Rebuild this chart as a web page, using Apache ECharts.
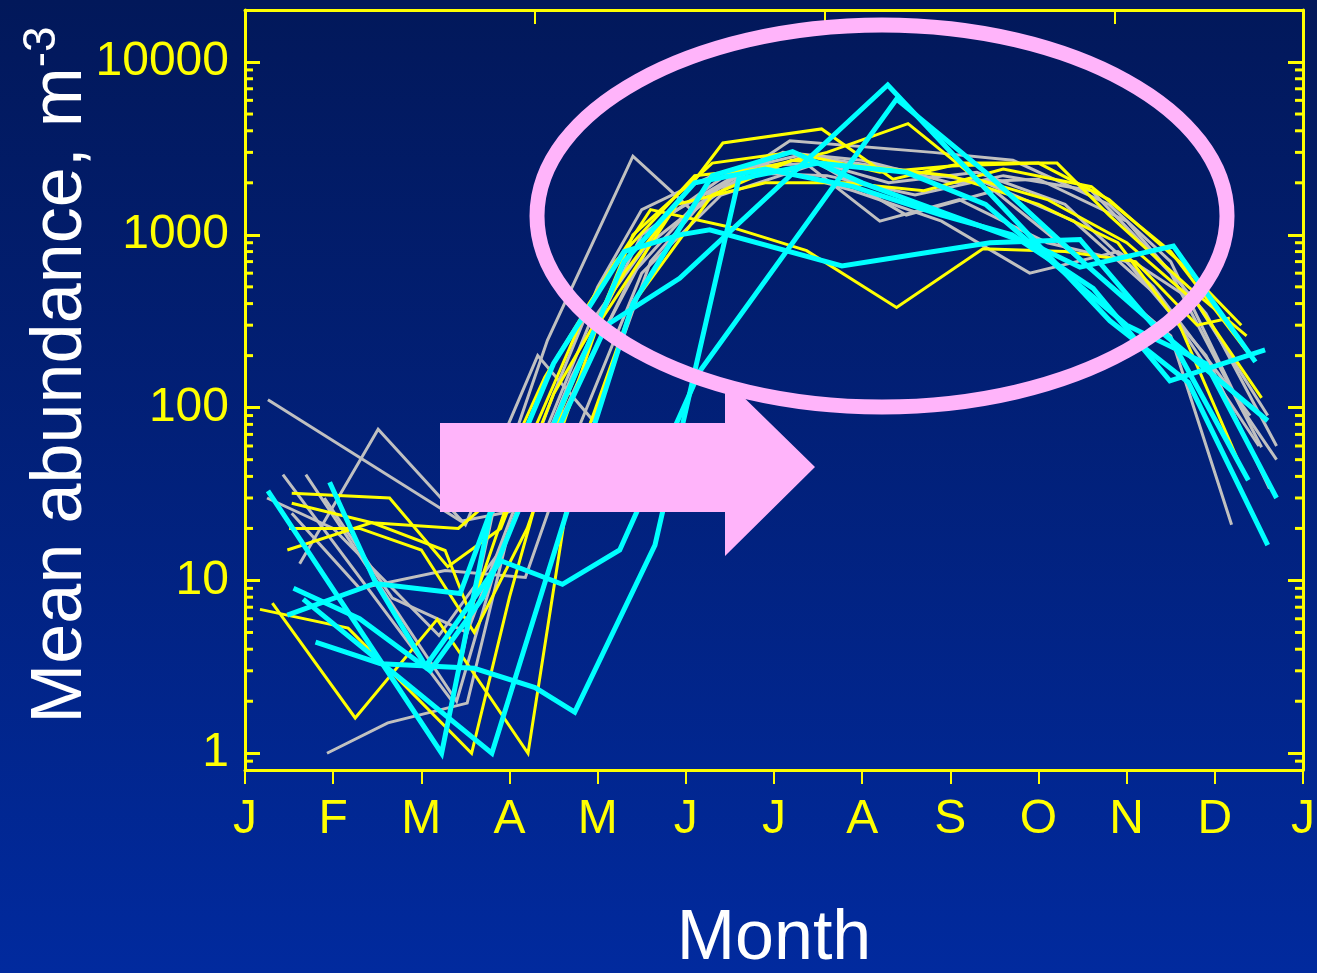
<!DOCTYPE html>
<html>
<head>
<meta charset="utf-8">
<script src="https://cdn.jsdelivr.net/npm/echarts@6/dist/echarts.min.js"></script>
<style>
  html, body { margin: 0; padding: 0; }
  #chart { width: 1317px; height: 973px; }
</style>
</head>
<body>
<div id="chart"></div>
<script>
// Month tick labels (x axis 0..12, ticks at the start of each month)
const monthLabels = ['J','F','M','A','M','J','J','A','S','O','N','D','J'];
// Major y ticks (log axis)
const yTickValues = [1, 10, 100, 1000, 10000];
// Minor log ticks
const minorTickValues = [0.9, 2,3,4,5,6,7,8,9, 20,30,40,50,60,70,80,90,
  200,300,400,500,600,700,800,900, 2000,3000,4000,5000,6000,7000,8000,9000];

// Each line: [month (fractional), mean abundance m^-3]
const grayLines = [
  [[0.26,111],[2.45,22],[3.0,25],[3.5,120],[4.0,500],[4.5,1400],[5.3,2200],[6.3,2900],[7.4,2400],[8.4,2000],[9.4,1200],[10.4,420],[11.5,60]],
  [[0.62,12.5],[1.51,75],[2.5,21],[3.32,200],[3.95,84],[4.6,700],[5.3,1800],[6.3,2800],[7.3,2000],[8.3,2300],[9.3,1500],[10.3,500],[11.4,90]],
  [[0.43,41],[2.35,2.0],[2.9,40],[3.43,245],[4.4,2850],[5.08,1370],[5.8,2500],[6.5,2600],[7.5,1300],[8.5,1800],[9.5,700],[10.5,260],[11.19,21]],
  [[0.69,41],[2.4,2.0],[2.9,15],[3.8,150],[4.6,900],[5.4,1900],[6.18,3500],[7.8,3000],[8.71,2700],[9.8,1500],[10.5,700],[11.3,100],[11.7,50]],
  [[0.53,24.5],[1.3,9],[2.27,11.4],[3.18,10.4],[3.7,60],[4.5,600],[5.4,1700],[6.4,2500],[7.2,1200],[8.1,1600],[9.1,900],[10.0,700],[10.9,200],[11.62,34]],
  [[0.93,1.0],[1.62,1.5],[2.52,1.95],[3.0,20],[3.7,150],[4.5,1000],[5.5,2300],[6.6,2200],[7.6,1700],[8.6,2200],[9.6,1800],[10.5,600],[11.53,59]],
  [[0.9,30],[1.67,7.9],[2.52,5.0],[3.1,30],[3.9,300],[4.8,1300],[5.8,2600],[6.9,1800],[7.9,1200],[8.9,600],[9.9,800],[10.8,400],[11.6,90]],
  [[0.25,30],[1.0,20],[2.2,4.8],[2.9,15],[3.6,90],[4.4,600],[5.2,1700],[6.1,3000],[7.0,2700],[8.0,2000],[9.0,2100],[10.0,1200],[10.9,350],[11.7,60]]
];
const yellowLines = [
  [[0.53,32],[1.64,30],[2.3,12],[2.9,20],[3.5,120],[4.3,600],[5.42,3400],[6.54,4100],[7.35,2100],[8.14,2600],[9.21,2600],[9.8,1300],[10.7,500],[11.36,260]],
  [[0.53,28],[1.44,21.6],[2.42,20],[2.75,28],[3.4,150],[4.2,700],[5.1,2200],[5.8,2400],[6.6,3000],[7.52,4400],[8.3,2100],[9.1,1600],[10.0,900],[10.8,400],[11.53,114]],
  [[0.48,15],[1.44,21.6],[2.27,14.9],[2.55,6.5],[3.2,60],[3.9,400],[4.6,1400],[5.53,1100],[6.37,810],[7.39,380],[8.37,830],[9.3,800],[10.1,700],[10.8,300],[11.17,330]],
  [[0.17,6.8],[1.17,5.3],[2.57,1.0],[3.0,8],[3.6,100],[4.4,1000],[5.3,2600],[6.2,3000],[7.2,2300],[8.0,2500],[9.0,2600],[9.8,1600],[10.6,700],[11.3,300]],
  [[0.31,7.4],[1.25,1.6],[2.18,5.95],[3.21,1.0],[3.7,40],[4.4,400],[5.3,1700],[6.2,2700],[7.0,2500],[8.0,2200],[9.0,1500],[9.9,900],[10.6,300],[11.29,46]],
  [[0.5,20],[1.3,20],[2.0,15],[2.6,5],[3.2,20],[4.0,300],[4.9,1500],[5.9,2000],[6.8,2000],[7.7,1800],[8.6,2400],[9.6,1900],[10.5,800],[11.4,200]]
];
const cyanLines = [
  [[0.26,33],[2.23,1.0],[2.78,24],[3.5,180],[4.3,800],[4.93,1000],[5.27,1070],[6.77,660],[7.74,790],[8.45,900],[9.47,940],[10.3,300],[11.6,84]],
  [[0.48,6.3],[1.47,9.6],[2.44,8.4],[2.78,24.6],[3.3,40],[4.1,300],[4.93,560],[7.29,7360],[9.81,318],[10.7,140],[11.6,16]],
  [[0.66,7.8],[2.8,1.0],[3.7,30],[4.4,400],[5.3,2200],[6.21,3030],[7.0,2000],[8.0,1300],[9.0,850],[9.47,650],[10.53,860],[11.46,184]],
  [[0.8,4.4],[1.54,3.3],[2.6,3.1],[3.29,2.4],[3.74,1.73],[4.65,16],[5.6,2100],[6.5,2600],[7.5,2300],[8.4,1500],[9.3,600],[10.0,300],[10.9,180],[11.7,30]],
  [[0.96,37],[1.47,10],[2.05,3.2],[2.9,13],[3.6,9.5],[4.25,15],[5.16,163],[7.39,6100],[8.4,2300],[9.5,700],[10.5,250],[11.38,38]],
  [[0.55,9],[1.3,6],[2.1,3.0],[2.7,8],[3.5,80],[4.3,700],[5.1,2000],[5.9,2400],[6.9,1900],[7.9,1300],[8.7,1000],[9.62,490],[10.49,143],[11.57,216]]
];

const FONT = 'Liberation Sans, Arial, sans-serif';
const YELLOW = '#FFFF00';
const PINK = '#FFB4FA';

function mkLine(data, color, width) {
  return {
    type: 'line', data: data, xAxisIndex: 0, yAxisIndex: 0,
    symbol: 'none', showSymbol: false, silent: true, animation: false,
    lineStyle: { color: color, width: width, join: 'miter' }, z: 3
  };
}

const series = [];
grayLines.forEach(d => series.push(mkLine(d, '#C0C0C0', 3)));
yellowLines.forEach(d => series.push(mkLine(d, YELLOW, 3)));
cyanLines.forEach(d => series.push(mkLine(d, '#00FFFF', 5)));
series.push({
  type: 'custom', xAxisIndex: 0, yAxisIndex: 0, silent: true, animation: false, z: 6,
  data: minorTickValues.map(v => [0, v]),
  renderItem: function (params, api) {
    const cs = params.coordSys;
    const y = api.coord([0, api.value(1)])[1];
    return { type: 'group', children: [
      { type: 'line', shape: { x1: cs.x, y1: y, x2: cs.x + 8, y2: y }, style: { stroke: YELLOW, lineWidth: 3 } },
      { type: 'line', shape: { x1: cs.x + cs.width - 8, y1: y, x2: cs.x + cs.width, y2: y }, style: { stroke: YELLOW, lineWidth: 3 } }
    ]};
  }
});

const chart = echarts.init(document.getElementById('chart'), null, { renderer: 'canvas' });
chart.setOption({
  animation: false,
  backgroundColor: {
    type: 'linear', x: 0, y: 0, x2: 0, y2: 1,
    colorStops: [{ offset: 0, color: '#02185A' }, { offset: 1, color: '#012A9E' }]
  },
  grid: { left: 245, right: 14, top: 10, bottom: 203, containLabel: false, outerBoundsMode: 'none' },
  xAxis: [
    {
      type: 'value', min: 0, max: 12, interval: 1, position: 'bottom',
      axisLine: { onZero: false, lineStyle: { color: YELLOW, width: 3 } },
      axisTick: { inside: false, length: 14, lineStyle: { color: YELLOW, width: 2 } },
      axisLabel: { color: YELLOW, fontSize: 48, fontFamily: FONT, margin: 26,
        formatter: v => monthLabels[Math.round(v)] },
      splitLine: { show: false },
      name: 'Month', nameLocation: 'middle', nameGap: 135,
      nameTextStyle: { color: '#FFFFFF', fontSize: 70, fontFamily: FONT }
    },
    {
      type: 'value', min: 0, max: 365, interval: 100, position: 'top',
      axisLine: { onZero: false, lineStyle: { color: YELLOW, width: 3 } },
      axisTick: { inside: true, length: 14, lineStyle: { color: YELLOW, width: 2 } },
      axisLabel: { show: false }, splitLine: { show: false }
    }
  ],
  yAxis: [
    {
      type: 'log', logBase: 10, min: 0.8, max: 20000, position: 'left',
      axisLine: { onZero: false, lineStyle: { color: YELLOW, width: 3 } },
      axisTick: { inside: true, length: 15, lineStyle: { color: YELLOW, width: 3 } },
      axisLabel: { color: YELLOW, fontSize: 48, fontFamily: FONT, margin: 16,
        showMinLabel: false, showMaxLabel: false,
        formatter: v => (yTickValues.indexOf(Math.round(v)) >= 0 ? String(Math.round(v)) : '') },
      splitLine: { show: false }
    },
    {
      type: 'log', logBase: 10, min: 0.8, max: 20000, position: 'right',
      axisLine: { onZero: false, lineStyle: { color: YELLOW, width: 3 } },
      axisTick: { inside: true, length: 15, lineStyle: { color: YELLOW, width: 3 } },
      axisLabel: { show: false }, splitLine: { show: false }
    }
  ],
  graphic: [
    { type: 'text', z: 100, silent: true, x: 58, y: 375, rotation: Math.PI / 2,
      style: {
        text: '{t|Mean abundance, m}{s|-3}', align: 'center', verticalAlign: 'middle',
        rich: {
          t: { fontSize: 72, fill: '#FFFFFF', fontFamily: FONT, verticalAlign: 'bottom' },
          s: { fontSize: 46, fill: '#FFFFFF', fontFamily: FONT, verticalAlign: 'bottom', padding: [0, 0, 32, 0] }
        }
      } },
    { type: 'ellipse', z: 100, silent: true,
      shape: { cx: 882, cy: 216, rx: 345, ry: 191 },
      style: { fill: null, stroke: PINK, lineWidth: 15 } },
    { type: 'polygon', z: 100, silent: true,
      shape: { points: [[440,423],[725,423],[725,379],[815,467],[725,556],[725,512],[440,512]] },
      style: { fill: PINK } }
  ],
  series: series
});
</script>
</body>
</html>
